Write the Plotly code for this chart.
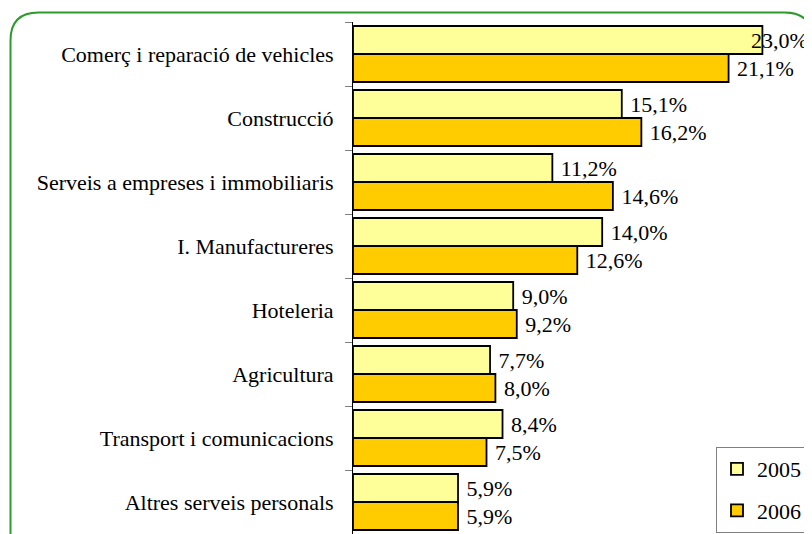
import plotly.graph_objects as go

categories = [
    "Comerç i reparació de vehicles",
    "Construcció",
    "Serveis a empreses i immobiliaris",
    "I. Manufactureres",
    "Hoteleria",
    "Agricultura",
    "Transport i comunicacions",
    "Altres serveis personals",
]
values_2005 = [23.0, 15.1, 11.2, 14.0, 9.0, 7.7, 8.4, 5.9]
values_2006 = [21.1, 16.2, 14.6, 12.6, 9.2, 8.0, 7.5, 5.9]
series_names = ["2005", "2006"]

FONT = "Liberation Serif, Times New Roman, serif"
FS = 22

# figure sits at an 8px page offset; geometry in figure pixels
W, H = 804, 526
L, R, T, B = 345, 14, 14, 0
pw, ph = W - L - R, H - T - B

def px(x):
    return (x - L) / pw

def py(y):
    return (H - B - y) / ph

def fmt(v):
    return f"{v:.1f}".replace(".", ",") + "%"

# first 2005 label is drawn as an annotation (pulled back over the bar end, as in the original)
text_2005 = [""] + [" " + fmt(v) for v in values_2005[1:]]
text_2006 = [" " + fmt(v) for v in values_2006]

fig = go.Figure()
for name, vals, txt, col, grp in [
    (series_names[0], values_2005, text_2005, "#FFFF99", "a"),
    (series_names[1], values_2006, text_2006, "#FFCC00", "b"),
]:
    fig.add_trace(go.Bar(
        y=categories, x=vals, name=name, orientation="h",
        marker=dict(color=col, line=dict(color="black", width=1.8)),
        text=txt, textposition="outside",
        textfont=dict(family=FONT, size=FS, color="black"),
        cliponaxis=False, constraintext="none",
        legendgroup=grp,
    ))

fig.add_annotation(
    x=values_2005[0], y=categories[0], xref="x", yref="y",
    text=fmt(values_2005[0]), showarrow=False,
    xanchor="left", yanchor="middle", xshift=-13, yshift=14,
    font=dict(family=FONT, size=FS, color="black"),
)

# rounded green frame
r = 28
x0, x1, y0, y1 = 2.5, 804.5, 4.5, 560
path = (
    f"M {px(x0)},{py(y1)} L {px(x0)},{py(y0 + r)} "
    f"Q {px(x0)},{py(y0)} {px(x0 + r)},{py(y0)} "
    f"L {px(x1 - r)},{py(y0)} "
    f"Q {px(x1)},{py(y0)} {px(x1)},{py(y0 + r)} "
    f"L {px(x1)},{py(y1)}"
)
fig.add_shape(type="path", path=path, xref="paper", yref="paper",
              line=dict(color="#2E9A2E", width=2), layer="below")

fig.update_layout(
    width=W, height=H,
    margin=dict(l=L, r=R, t=T, b=B, pad=0),
    paper_bgcolor="white", plot_bgcolor="white",
    barmode="group", bargap=0.125, bargroupgap=0,
    showlegend=True,
    legend=dict(
        x=px(799), y=py(525), xanchor="right", yanchor="bottom",
        bgcolor="white", bordercolor="#808080", borderwidth=1,
        font=dict(family=FONT, size=FS, color="black"),
        traceorder="grouped", tracegroupgap=10, itemwidth=30,
    ),
    font=dict(family=FONT, size=FS, color="black"),
)
fig.update_xaxes(range=[0, 25], visible=False, showgrid=False, zeroline=False)
fig.update_yaxes(
    autorange=False, range=[7.5, -0.5],
    showline=True, linecolor="black", linewidth=1,
    ticks="outside", ticklen=7, tickcolor="#808080", tickson="boundaries",
    ticklabelstandoff=14, showgrid=False,
    tickfont=dict(family=FONT, size=FS, color="black"),
)

fig.write_html("out.html")
